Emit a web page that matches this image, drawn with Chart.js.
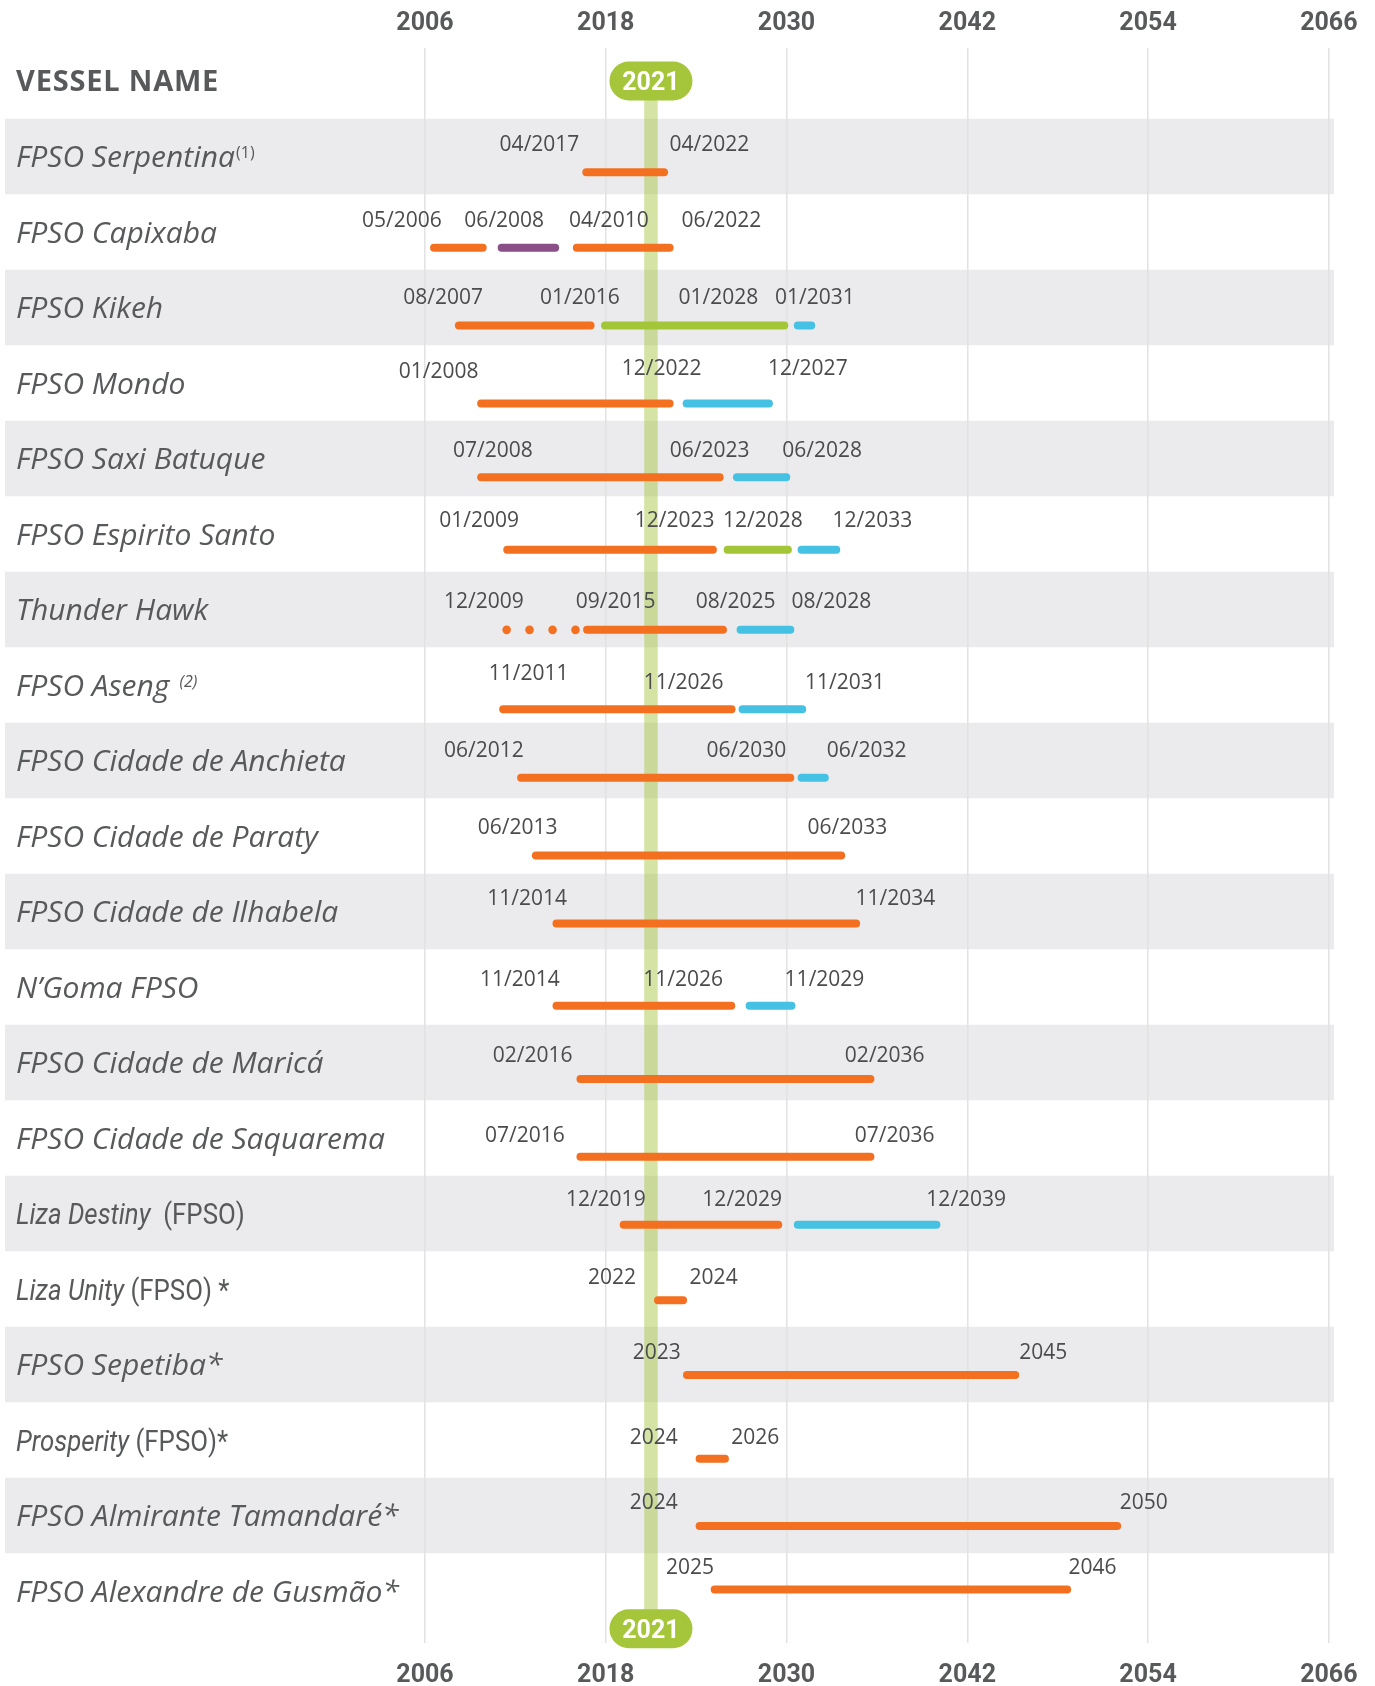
<!DOCTYPE html>
<html>
<head>
<meta charset="utf-8">
<script src="https://cdn.jsdelivr.net/npm/chart.js@4.4.1/dist/chart.umd.min.js"></script>
<style>
  html, body { margin: 0; padding: 0; background: #fff; overflow: hidden; }
  #wrap { position: absolute; left: 0; top: -1px; width: 1375px; height: 1709px; }
</style>
</head>
<body>
<div id="wrap"><canvas id="fleet"></canvas></div>
<script>
// rows of the timeline, top to bottom
const vesselNames = [
  'FPSO Serpentina', 'FPSO Capixaba', 'FPSO Kikeh', 'FPSO Mondo', 'FPSO Saxi Batuque',
  'FPSO Espirito Santo', 'Thunder Hawk', 'FPSO Aseng', 'FPSO Cidade de Anchieta',
  'FPSO Cidade de Paraty', 'FPSO Cidade de Ilhabela', 'N\u2019Goma FPSO',
  'FPSO Cidade de Maricá', 'FPSO Cidade de Saquarema', 'Liza Destiny  (FPSO)',
  'Liza Unity (FPSO) *', 'FPSO Sepetiba*', 'Prosperity (FPSO)*',
  'FPSO Almirante Tamandaré*', 'FPSO Alexandre de Gusmão*'
];
const vesselNotes = ['(1)', '', '', '', '', '', '', '(2)', '', '', '', '', '', '', '', '', '', '', '', ''];

// y value of each row's bar (row index units)
const barRows = [0.21, 1.21, 2.24, 3.27, 4.25, 5.21, 6.27, 7.32, 8.23, 9.26,
                 10.16, 11.25, 12.22, 13.25, 14.15, 15.15, 16.14, 17.25, 18.14, 18.98];

// [row, start year, end year]
const firmSpans = [
  [0, 2016.71, 2021.87], [1, 2006.60, 2009.83], [1, 2016.08, 2022.24], [2, 2008.25, 2016.99],
  [3, 2009.73, 2022.24], [4, 2009.73, 2025.56], [5, 2011.46, 2025.11], [6, 2016.76, 2025.78],
  [7, 2011.19, 2026.35], [8, 2012.38, 2030.25], [9, 2013.36, 2033.63], [10, 2014.73, 2034.62],
  [11, 2014.73, 2026.33], [12, 2016.32, 2035.57], [13, 2016.32, 2035.57], [14, 2019.19, 2029.45],
  [15, 2021.47, 2023.13], [16, 2023.39, 2045.18], [17, 2024.23, 2025.91], [18, 2024.23, 2051.95],
  [19, 2025.23, 2048.63]
];
const conversionSpans = [[1, 2011.09, 2014.64]];
const extensionSpans = [[2, 2017.95, 2029.85], [5, 2026.09, 2030.09]];
const optionSpans = [
  [2, 2030.75, 2031.64], [3, 2023.37, 2028.83], [4, 2026.71, 2029.98], [5, 2031.00, 2033.30],
  [6, 2026.95, 2030.25], [7, 2027.08, 2031.04], [8, 2031.00, 2032.54], [11, 2027.55, 2030.33],
  [14, 2030.75, 2039.95]
];
// Thunder Hawk earlier period, shown dotted
const dottedYears = [2011.42, 2012.94, 2014.47, 2015.99];
const dottedRow = 6;

// [text, year anchor, y value]
const dateLabels = [
  ['04/2017', 2013.6, -0.17], ['04/2022', 2024.88, -0.17],
  ['05/2006', 2004.46, 0.84], ['06/2008', 2011.26, 0.84], ['04/2010', 2018.2, 0.84], ['06/2022', 2025.67, 0.84],
  ['08/2007', 2007.21, 1.85], ['01/2016', 2016.28, 1.85], ['01/2028', 2025.47, 1.85], ['01/2031', 2031.88, 1.85],
  ['01/2008', 2006.91, 2.84], ['12/2022', 2021.71, 2.79], ['12/2027', 2031.41, 2.79],
  ['07/2008', 2010.51, 3.88], ['06/2023', 2024.9, 3.88], ['06/2028', 2032.37, 3.88],
  ['01/2009', 2009.6, 4.81], ['12/2023', 2022.57, 4.81], ['12/2028', 2028.43, 4.81], ['12/2033', 2035.7, 4.81],
  ['12/2009', 2009.91, 5.88], ['09/2015', 2018.66, 5.88], ['08/2025', 2026.62, 5.88], ['08/2028', 2032.98, 5.88],
  ['11/2011', 2012.88, 6.84], ['11/2026', 2023.17, 6.95], ['11/2031', 2033.87, 6.95],
  ['06/2012', 2009.91, 7.85], ['06/2030', 2027.33, 7.85], ['06/2032', 2035.32, 7.85],
  ['06/2013', 2012.15, 8.88], ['06/2033', 2034.04, 8.88],
  ['11/2014', 2012.78, 9.81], ['11/2034', 2037.23, 9.81],
  ['11/2014', 2012.3, 10.89], ['11/2026', 2023.13, 10.89], ['11/2029', 2032.52, 10.89],
  ['02/2016', 2013.14, 11.89], ['02/2036', 2036.52, 11.89],
  ['07/2016', 2012.63, 12.96], ['07/2036', 2037.18, 12.96],
  ['12/2019', 2018.0, 13.80], ['12/2029', 2027.06, 13.80], ['12/2039', 2041.93, 13.80],
  ['2022', 2018.42, 14.84], ['2024', 2025.16, 14.84],
  ['2023', 2021.38, 15.83], ['2045', 2047.04, 15.83],
  ['2024', 2021.18, 16.95], ['2026', 2027.93, 16.95],
  ['2024', 2021.18, 17.82], ['2050', 2053.72, 17.82],
  ['2025', 2023.59, 18.68], ['2046', 2050.31, 18.68]
];

const yearTicks = [2006, 2018, 2030, 2042, 2054, 2066];
const currentYear = 2021;

const ORANGE = '#f37021';
const PURPLE = '#8b4f87';
const GREEN = '#a3c639';
const CYAN = '#45c1e3';
const TEXT = '#58595b';

function spanDataset(span, color) {
  const [row, start, end] = span;
  return {
    type: 'line',
    data: [{ x: start, y: barRows[row] }, { x: end, y: barRows[row] }],
    borderColor: color,
    borderWidth: 8,
    borderCapStyle: 'round',
    pointRadius: 0,
    fill: false
  };
}

const datasets = [];
firmSpans.forEach(s => datasets.push(spanDataset(s, ORANGE)));
conversionSpans.forEach(s => datasets.push(spanDataset(s, PURPLE)));
extensionSpans.forEach(s => datasets.push(spanDataset(s, GREEN)));
optionSpans.forEach(s => datasets.push(spanDataset(s, CYAN)));
datasets.push({
  type: 'scatter',
  data: dottedYears.map(x => ({ x: x, y: barRows[dottedRow] })),
  backgroundColor: ORANGE,
  borderWidth: 0,
  pointRadius: 4.3
});

// text with its cap height centred on yMid
function midText(ctx, text, x, yMid, size) {
  ctx.fillText(text, x, yMid + size * 0.357);
}

// condensed text: Roboto squeezed horizontally
function narrowText(ctx, text, x, yMid, font) {
  ctx.save();
  ctx.font = font;
  ctx.translate(x, 0);
  ctx.scale(0.86, 1);
  midText(ctx, text, 0, yMid, 30);
  const w = ctx.measureText(text).width * 0.86;
  ctx.restore();
  return w;
}

const fleetDecor = {
  id: 'fleetDecor',
  beforeDraw(chart) {
    const ctx = chart.ctx, y = chart.scales.y;
    ctx.save();
    ctx.fillStyle = '#ebebed';
    for (let i = 0; i < vesselNames.length; i += 2) {
      const top = y.getPixelForValue(i - 0.5);
      const bot = y.getPixelForValue(i + 0.5);
      ctx.fillRect(5, top, 1334 - 5, bot - top);
    }
    ctx.restore();
  },
  beforeDatasetsDraw(chart) {
    const ctx = chart.ctx, x = chart.scales.x, y = chart.scales.y;
    const cx = x.getPixelForValue(currentYear);
    const top = y.getPixelForValue(-1);
    const bot = y.getPixelForValue(vesselNames.length - 0.5);
    ctx.save();
    ctx.fillStyle = 'rgba(163, 196, 57, 0.46)';
    ctx.fillRect(cx - 6.75, top, 13.5, bot - top);
    ctx.restore();
  },
  afterDatasetsDraw(chart) {
    const ctx = chart.ctx, x = chart.scales.x, y = chart.scales.y;
    ctx.save();

    // date labels
    ctx.fillStyle = '#4b4b4d';
    ctx.textAlign = 'center';
    ctx.font = '21px "Open Sans"';
    dateLabels.forEach(([text, yr, row]) => {
      midText(ctx, text, x.getPixelForValue(yr), y.getPixelForValue(row), 21);
    });

    // header
    ctx.textAlign = 'left';
    ctx.fillStyle = TEXT;
    ctx.font = 'bold 29px "Open Sans"';
    ctx.letterSpacing = '0.8px';
    midText(ctx, 'VESSEL NAME', 16, y.getPixelForValue(-1), 29);
    ctx.letterSpacing = '0px';

    // vessel names
    vesselNames.forEach((name, i) => {
      const yMid = y.getPixelForValue(i);
      const m = name.match(/^(\S.*?)(\s*\(FPSO\).*)$/);
      if (m) {
        const w = narrowText(ctx, m[1], 16, yMid, 'italic 30px Roboto');
        narrowText(ctx, m[2], 16 + w, yMid, '30px Roboto');
        return;
      }
      ctx.font = 'italic 30px "Open Sans"';
      midText(ctx, name, 16, yMid, 30);
      const note = vesselNotes[i];
      if (note) {
        const w = ctx.measureText(name).width;
        const italicNote = i === 7;
        ctx.font = (italicNote ? 'italic ' : '') + '16px "Open Sans"';
        ctx.fillText(note, 16 + w + (italicNote ? 10 : 1), yMid + 10.7 - 9);
      }
    });

    // 2021 pills
    const cx = x.getPixelForValue(currentYear);
    [-1, vesselNames.length - 0.5].forEach(v => {
      const cy = y.getPixelForValue(v);
      ctx.fillStyle = '#a5c53a';
      ctx.beginPath();
      ctx.roundRect(cx - 41.5, cy - 19.5, 83, 39, 19.5);
      ctx.fill();
      ctx.fillStyle = '#ffffff';
      ctx.textAlign = 'center';
      ctx.font = 'bold 25px Roboto';
      midText(ctx, String(currentYear), cx, cy, 25);
    });
    ctx.restore();
  }
};

const yearAxis = (position, pad, showGrid) => ({
  type: 'linear',
  position: position,
  min: yearTicks[0],
  max: yearTicks[yearTicks.length - 1],
  afterBuildTicks: axis => { axis.ticks = yearTicks.map(v => ({ value: v })); },
  grid: { display: showGrid, color: '#e2e2e2', lineWidth: 1.5, drawTicks: false },
  border: { display: false },
  ticks: {
    padding: pad,
    color: TEXT,
    font: { family: 'Roboto', size: 25, weight: 'bold', lineHeight: 1.2 },
    callback: v => String(v)
  }
});

new Chart(document.getElementById('fleet'), {
  type: 'line',
  data: { datasets: datasets },
  options: {
    responsive: true,
    maintainAspectRatio: false,
    animation: false,
    events: [],
    layout: { padding: { left: 425, right: 45, top: 0, bottom: 0 } },
    plugins: { legend: { display: false }, tooltip: { enabled: false } },
    scales: {
      x: yearAxis('top', 9.5, true),
      x2: yearAxis('bottom', 17.5, false),
      y: { type: 'linear', display: false, reverse: true, min: -1.437, max: 19.689 }
    }
  },
  plugins: [fleetDecor]
});
</script>
</body>
</html>
